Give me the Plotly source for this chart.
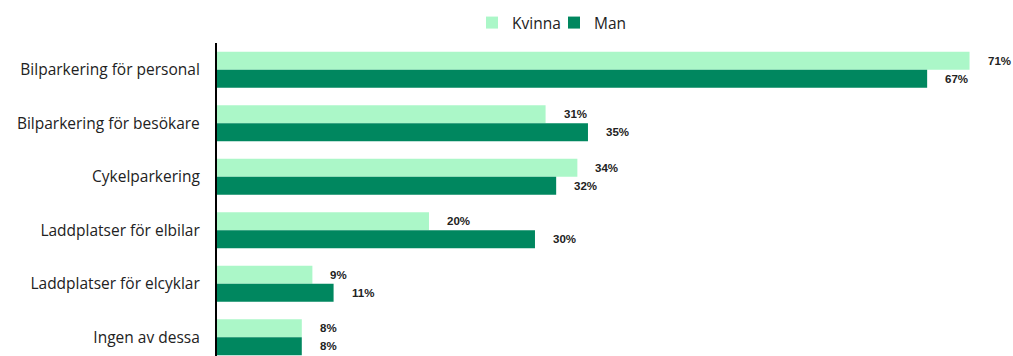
import plotly.graph_objects as go

categories = [
    "Bilparkering för personal",
    "Bilparkering för besökare",
    "Cykelparkering",
    "Laddplatser för elbilar",
    "Laddplatser för elcyklar",
    "Ingen av dessa",
]
kvinna = [71, 31, 34, 20, 9, 8]
man = [67, 35, 32, 30, 11, 8]

LIGHT = "#abf7c8"
DARK = "#00875f"

fig = go.Figure()
fig.add_trace(go.Bar(y=categories, x=kvinna, name="Kvinna", orientation="h",
                     marker=dict(color=LIGHT, line=dict(width=0))))
fig.add_trace(go.Bar(y=categories, x=man, name="Man", orientation="h",
                     marker=dict(color=DARK, line=dict(width=0))))

# value labels to the right of each bar
n = len(categories)
for i, (k, m) in enumerate(zip(kvinna, man)):
    for v, off in ((k, -0.17), (m, 0.17)):
        fig.add_annotation(x=v, y=i + off, text=f"<b>{v}%</b>", showarrow=False,
                           xanchor="left", yanchor="middle", xshift=16,
                           font=dict(size=11.5, color="#222", family="Liberation Sans"))

fig.update_layout(
    width=1013, height=356,
    margin=dict(l=217, r=0, t=43, b=0),
    plot_bgcolor="white", paper_bgcolor="white",
    barmode="group", bargap=0.33, bargroupgap=0,
    font=dict(family="Open Sans", size=15.5, color="#222"),
    legend=dict(orientation="h", x=472 / 1013, xanchor="left", xref="container",
                y=1 - 6 / 356, yref="container", yanchor="top",
                font=dict(size=15.5), traceorder="normal", itemwidth=30,
                entrywidth=37, entrywidthmode="pixels"),
    showlegend=True,
)
fig.update_xaxes(range=[0, 75.1], showgrid=False, showticklabels=False,
                 zeroline=False, showline=False)
fig.update_yaxes(type="category", categoryorder="array", categoryarray=categories,
                 autorange=False, range=[5.35, -0.5],
                 showline=True, linecolor="black", linewidth=2,
                 ticks="", ticksuffix="   ", showgrid=False)

fig.write_html("out.html")
